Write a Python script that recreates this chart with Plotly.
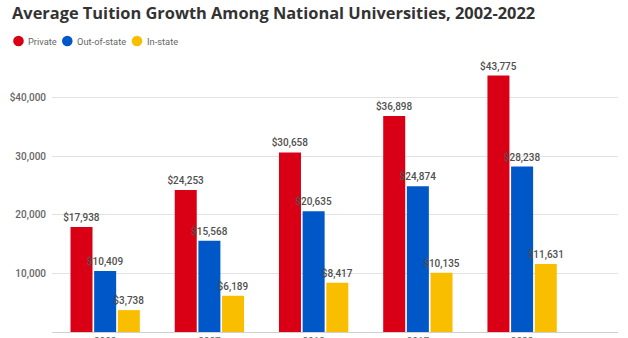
import plotly.graph_objects as go

# Average tuition by year, national universities
years = ["2002", "2007", "2012", "2017", "2022"]
private = [17938, 24253, 30658, 36898, 43775]
out_of_state = [10409, 15568, 20635, 24874, 28238]
in_state = [3738, 6189, 8417, 10135, 11631]

series_names = ["Private", "Out-of-state", "In-state"]
series_values = [private, out_of_state, in_state]
series_colors = ["#D90016", "#0057C8", "#F9BE00"]

y_tick_vals = [10000, 20000, 30000, 40000]
y_tick_text = ["10,000", "20,000", "30,000", "$40,000"]

W, H = 628, 338
L, R, T, B = 52, 10, 60, 6
plot_w = W - L - R
plot_h = H - T - B


def px_x(px):
    return (px - L) / plot_w


def px_y(py):
    return (H - B - py) / plot_h


fig = go.Figure()
for name, vals, color in zip(series_names, series_values, series_colors):
    fig.add_trace(go.Bar(
        x=years,
        y=vals,
        name=name,
        marker=dict(color=color, line=dict(width=0)),
        text=[f"${v:,}" for v in vals],
        textposition="outside",
        constraintext="none",
        cliponaxis=False,
        textfont=dict(family="Roboto", size=10, color="#505050", weight=500),
        showlegend=False,
        hoverinfo="skip",
    ))

# Compact legend row: coloured dots with labels
legend_items = [(18.5, 27, "Private"), (67.3, 76, "Out-of-state"), (137, 145.5, "In-state")]
legend_y = 41
for (cx, tx, label), color in zip(legend_items, series_colors):
    fig.add_shape(
        type="circle", xref="paper", yref="paper",
        xsizemode="pixel", ysizemode="pixel",
        xanchor=px_x(cx), yanchor=px_y(legend_y),
        x0=-5.3, x1=5.3, y0=-5.3, y1=5.3,
        fillcolor=color, line=dict(width=0),
    )
    fig.add_annotation(
        x=px_x(tx), y=px_y(legend_y), xref="paper", yref="paper",
        text=label, showarrow=False, xanchor="left", yanchor="middle",
        xshift=-1,
        font=dict(family="Roboto", size=9.3, color="#666666"),
    )

fig.update_layout(
    width=W, height=H,
    margin=dict(l=L, r=R, t=T, b=B, autoexpand=False),
    paper_bgcolor="white", plot_bgcolor="white",
    barmode="group", bargap=0.319, bargroupgap=0.07,
    title=dict(
        text="<b>Average Tuition Growth Among National Universities, 2002-2022</b>",
        x=12 / W, xanchor="left", xref="container",
        y=1 - 13.5 / H, yanchor="middle", yref="container",
        font=dict(family="Open Sans", size=16.4, color="#333333"),
    ),
    xaxis=dict(
        type="category", range=[-0.51, 4.92], automargin=False,
        showgrid=False, showline=True, linecolor="#d0d0d0", linewidth=1,
        ticks="", tickfont=dict(family="Roboto", size=10, color="#666666"),
        fixedrange=True,
    ),
    yaxis=dict(
        range=[0, plot_h / 0.005857], automargin=False,
        tickvals=y_tick_vals, ticktext=y_tick_text,
        showgrid=True, gridcolor="#e2e2e2", gridwidth=1,
        zeroline=False, showline=False, ticks="",
        ticklabelstandoff=5,
        tickfont=dict(family="Roboto", size=10, color="#666666", weight=500),
        fixedrange=True,
    ),
)

fig.write_html("out.html")
